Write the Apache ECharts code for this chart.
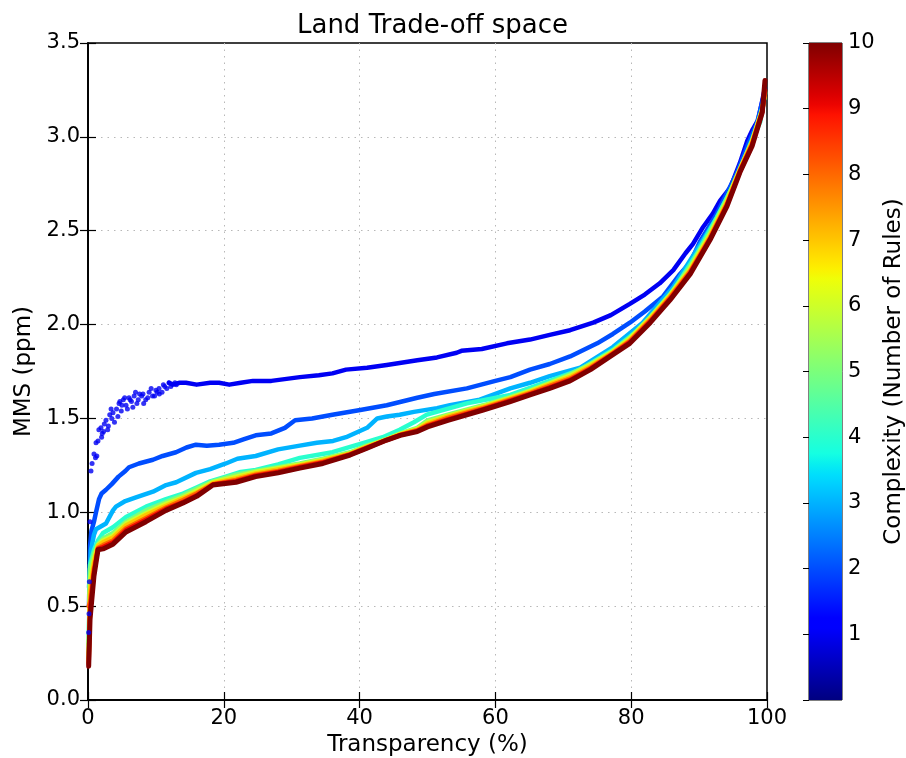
<!DOCTYPE html>
<html>
<head>
<meta charset="utf-8">
<script src="https://cdn.jsdelivr.net/npm/echarts@6/dist/echarts.min.js"></script>
<style>
  html, body { margin: 0; padding: 0; background: #ffffff; }
  #chart { width: 906px; height: 758px; }
</style>
</head>
<body>
<div id="chart"></div>
<script>
// Axis ticks
const xTicks = [0, 20, 40, 60, 80, 100];
const yTicks = [0, 0.5, 1.0, 1.5, 2.0, 2.5, 3.0, 3.5];
const complexityTicks = [1, 2, 3, 4, 5, 6, 7, 8, 9, 10];

// Complexity 1: noisy start (drawn as dots), then the smooth part
const rules1Start = [
  [0.1, 0.36], [0.15, 0.46], [0.2, 0.63], [0.3, 0.95], [0.44, 1.22], [0.6, 1.26], [0.88, 1.31],
  [1.1, 1.29], [1.18, 1.37], [1.3, 1.30], [1.47, 1.38], [1.6, 1.44], [1.91, 1.45], [2.0, 1.40],
  [2.1, 1.42], [2.3, 1.43], [2.4, 1.47], [2.65, 1.49], [2.9, 1.44], [3.0, 1.46], [3.2, 1.52],
  [3.4, 1.55], [3.5, 1.50], [3.68, 1.53], [3.9, 1.48], [4.2, 1.55], [4.4, 1.51], [4.57, 1.58],
  [4.7, 1.59], [4.9, 1.54], [5.0, 1.57], [5.2, 1.60], [5.4, 1.61], [5.6, 1.57], [5.8, 1.55],
  [6.04, 1.61], [6.2, 1.60], [6.4, 1.59], [6.6, 1.56], [6.8, 1.62], [7.0, 1.64], [7.2, 1.58],
  [7.4, 1.60], [7.6, 1.63], [7.9, 1.62], [8.1, 1.63], [8.2, 1.58], [8.5, 1.60], [8.8, 1.61],
  [9.0, 1.64], [9.3, 1.66], [9.5, 1.62], [9.8, 1.62], [10.0, 1.65], [10.2, 1.64], [10.46, 1.66],
  [10.5, 1.63], [10.9, 1.64], [11.1, 1.68], [11.3, 1.67], [11.6, 1.66], [11.93, 1.69],
  [12.2, 1.67], [12.8, 1.69], [13, 1.68]
];
const rules1 = [
  [11.93, 1.69], [12.5, 1.68], [13.5, 1.69], [14.43, 1.69], [16, 1.68], [18, 1.69], [19.3, 1.69],
  [20.8, 1.68], [22.5, 1.69], [24.3, 1.70], [27, 1.70], [31.2, 1.72], [34, 1.73], [36, 1.74],
  [38, 1.76], [41.1, 1.77], [44, 1.785], [48.5, 1.81], [51.4, 1.825], [54.3, 1.85], [55, 1.86],
  [58, 1.87], [61.7, 1.90], [65.1, 1.92], [68, 1.945], [71, 1.97], [74.4, 2.01], [77, 2.05],
  [79.8, 2.11], [82, 2.16], [84.2, 2.22], [86.2, 2.29], [88, 2.38], [89.1, 2.43], [90.6, 2.52],
  [92, 2.59], [93.1, 2.66], [94.6, 2.73], [96, 2.86], [97.1, 2.98], [97.9, 3.04], [98.7, 3.09],
  [99.4, 3.21], [99.7, 3.26]
];
const rules2 = [
  [0.15, 0.50], [0.3, 0.82], [0.5, 0.90], [0.88, 0.95], [1.18, 1.00], [1.62, 1.07], [2.0, 1.10],
  [2.65, 1.12], [3.5, 1.15], [4.5, 1.19], [5.5, 1.22], [6.04, 1.24], [7.5, 1.26], [9.57, 1.28],
  [11, 1.30], [12.96, 1.32], [14.5, 1.345], [15.9, 1.36], [17.5, 1.355], [19.3, 1.36], [21.4, 1.37],
  [23, 1.39], [24.7, 1.41], [27, 1.42], [29, 1.45], [30.5, 1.49], [33, 1.50], [36, 1.52],
  [40.1, 1.545], [44, 1.57], [48.5, 1.61], [51, 1.63], [55.8, 1.66], [60, 1.70], [62.2, 1.72],
  [65.1, 1.76], [68, 1.79], [71, 1.83], [75, 1.90], [77.3, 1.95], [79.8, 2.01], [82, 2.07],
  [84.7, 2.15], [87.2, 2.27], [88.7, 2.33], [90.1, 2.44], [92.6, 2.59], [95.6, 2.81],
  [97.1, 2.95], [98.5, 3.07], [99.6, 3.23]
];
const rules3 = [
  [0.15, 0.60], [0.44, 0.80], [0.88, 0.88], [1.18, 0.91], [2.65, 0.94], [3.68, 1.01], [4.12, 1.03],
  [5.5, 1.06], [7.07, 1.08], [9.57, 1.11], [11.5, 1.145], [13, 1.16], [15.9, 1.21], [18, 1.23],
  [20.3, 1.26], [22, 1.285], [24.7, 1.30], [28, 1.335], [31.2, 1.355], [33.7, 1.37], [36.1, 1.38],
  [38, 1.40], [41.1, 1.45], [42.6, 1.50], [44, 1.51], [45.9, 1.52], [48, 1.535], [51.4, 1.555],
  [53.3, 1.57], [57.7, 1.60], [60.7, 1.64], [62.2, 1.66], [65.1, 1.69], [68, 1.725], [72.5, 1.77],
  [77.3, 1.88], [81.7, 2.01], [86.2, 2.20], [89.7, 2.40], [92.6, 2.57], [95.6, 2.78], [97.5, 2.96],
  [99, 3.10], [99.7, 3.24]
];
const rules4 = [
  [0.1, 0.30], [0.3, 0.72], [0.88, 0.80], [1.47, 0.85], [2.21, 0.89], [3.68, 0.92], [5.6, 0.975],
  [8.54, 1.03], [11.49, 1.07], [14, 1.10], [15.9, 1.13], [18, 1.165], [20.3, 1.19], [22.5, 1.215],
  [24.7, 1.225], [28, 1.255], [31.2, 1.29], [36, 1.32], [41.1, 1.375], [43.4, 1.40], [45.9, 1.44],
  [48, 1.48], [49.9, 1.52], [55.8, 1.58], [62.2, 1.625], [68, 1.70], [72.5, 1.76], [77.3, 1.865],
  [81.7, 1.99], [86.2, 2.18], [89.7, 2.38], [92.6, 2.57], [95.6, 2.78], [97.5, 2.95], [99, 3.08],
  [99.7, 3.23]
];

// Shared transparency positions of complexities 5-10
const transparency = [
  0.1, 0.3, 0.88, 1.47, 2.21, 3.68, 5.6, 8.54, 11.49, 14, 16, 18.4, 21.8, 24.7, 28, 31.2, 34.6,
  38.6, 41, 44, 46, 48.5, 50, 53, 58.2, 62.2, 65.1, 68, 71, 74, 77.3, 79.8, 82.8, 85.7, 88.7,
  91.6, 94.1, 96, 97.8, 99.3, 99.7
];
const rules5 = [
  0.25, 0.70, 0.78, 0.83, 0.86, 0.89, 0.95, 1.01, 1.055, 1.09, 1.125, 1.165, 1.20, 1.22, 1.24, 1.26,
  1.285, 1.32, 1.355, 1.39, 1.42, 1.45, 1.49, 1.52, 1.57, 1.615, 1.65, 1.69, 1.735, 1.79, 1.86,
  1.93, 2.04, 2.16, 2.31, 2.49, 2.67, 2.83, 2.98, 3.15, 3.23
];
const rules6 = [
  0.22, 0.64, 0.75, 0.825, 0.85, 0.875, 0.94, 0.995, 1.045, 1.08, 1.115, 1.16, 1.19, 1.215, 1.235,
  1.255, 1.28, 1.315, 1.35, 1.388, 1.418, 1.445, 1.48, 1.515, 1.565, 1.61, 1.645, 1.685, 1.728,
  1.785, 1.856, 1.925, 2.035, 2.155, 2.30, 2.48, 2.66, 2.826, 2.975, 3.145, 3.235
];
const rules7 = [
  0.20, 0.58, 0.73, 0.82, 0.84, 0.865, 0.93, 0.985, 1.035, 1.075, 1.105, 1.155, 1.18, 1.207, 1.228,
  1.25, 1.275, 1.312, 1.347, 1.387, 1.415, 1.44, 1.472, 1.51, 1.56, 1.605, 1.64, 1.68, 1.72,
  1.778, 1.852, 1.918, 2.03, 2.15, 2.29, 2.47, 2.65, 2.822, 2.97, 3.14, 3.24
];
const rules8 = [
  0.50, 0.52, 0.70, 0.81, 0.825, 0.85, 0.915, 0.97, 1.025, 1.065, 1.10, 1.15, 1.172, 1.2, 1.22,
  1.245, 1.27, 1.31, 1.345, 1.386, 1.413, 1.437, 1.465, 1.503, 1.555, 1.60, 1.635, 1.673, 1.712,
  1.77, 1.848, 1.912, 2.022, 2.143, 2.283, 2.462, 2.642, 2.818, 2.962, 3.137, 3.245
];
const rules9 = [
  0.19, 0.48, 0.68, 0.805, 0.815, 0.84, 0.905, 0.96, 1.018, 1.055, 1.09, 1.148, 1.166, 1.195, 1.215,
  1.24, 1.265, 1.307, 1.342, 1.385, 1.411, 1.433, 1.46, 1.495, 1.55, 1.595, 1.63, 1.666, 1.705,
  1.765, 1.844, 1.906, 2.016, 2.136, 2.276, 2.455, 2.636, 2.814, 2.956, 3.133, 3.25
];
const rules10 = [
  0.18, 0.43, 0.66, 0.80, 0.805, 0.83, 0.895, 0.95, 1.01, 1.05, 1.085, 1.145, 1.16, 1.19, 1.21,
  1.235, 1.26, 1.305, 1.34, 1.385, 1.41, 1.43, 1.455, 1.49, 1.545, 1.59, 1.625, 1.66, 1.70, 1.76,
  1.84, 1.90, 2.01, 2.13, 2.27, 2.45, 2.63, 2.81, 2.95, 3.13, 3.30
];

// matplotlib "jet" colormap
function jet(t) {
  const seg = (pts) => {
    for (let i = 1; i < pts.length; i++) {
      if (t <= pts[i][0]) {
        const [x0, y0] = pts[i - 1], [x1, y1] = pts[i];
        return y0 + (y1 - y0) * (t - x0) / (x1 - x0);
      }
    }
    return pts[pts.length - 1][1];
  };
  const r = seg([[0, 0], [0.35, 0], [0.66, 1], [0.89, 1], [1, 0.5]]);
  const g = seg([[0, 0], [0.125, 0], [0.375, 1], [0.64, 1], [0.91, 0], [1, 0]]);
  const b = seg([[0, 0.5], [0.11, 1], [0.34, 1], [0.65, 0], [1, 0]]);
  return 'rgb(' + Math.round(r * 255) + ',' + Math.round(g * 255) + ',' + Math.round(b * 255) + ')';
}
const cMax = 10;
const colorOf = (c) => jet(c / cMax);

const pair = (ys) => transparency.map((x, i) => [x, ys[i]]);

// Simpler rule sets first, the most complex on top
const curves = [
  { c: 1, data: rules1 },
  { c: 2, data: rules2 },
  { c: 3, data: rules3 },
  { c: 4, data: rules4 },
  { c: 5, data: pair(rules5) },
  { c: 6, data: pair(rules6) },
  { c: 7, data: pair(rules7) },
  { c: 8, data: pair(rules8) },
  { c: 9, data: pair(rules9) },
  { c: 10, data: pair(rules10) }
];

const FONT = 'DejaVu Sans';
const tickStyle = { color: '#000', fontFamily: FONT, fontSize: 21 };
const nameStyle = { fontFamily: FONT, fontSize: 23, color: '#000' };
const axisLine = { show: true, lineStyle: { color: '#000', width: 1.5 } };
const inTick = { show: true, inside: true, length: 8, lineStyle: { color: '#000', width: 1.2 } };
const dotted = {
  show: true, showMinLine: false, showMaxLine: false,
  lineStyle: { color: '#b8b8b8', width: 1, type: [1.5, 5] }
};

const series = [];
series.push({
  type: 'scatter',
  xAxisIndex: 0, yAxisIndex: 0,
  data: rules1Start,
  symbol: 'circle',
  symbolSize: 5,
  z: 3,
  itemStyle: { color: colorOf(1) }
});
curves.forEach((cv) => series.push({
  type: 'line',
  xAxisIndex: 0, yAxisIndex: 0,
  data: cv.data,
  showSymbol: false,
  symbol: 'none',
  z: 3,
  lineStyle: { color: colorOf(cv.c), width: cv.c === 10 ? 5 : 4.5, join: 'round', cap: 'round' }
}));

// Colour bar
const barStops = [];
for (let i = 0; i <= 64; i++) barStops.push({ offset: i / 64, color: jet(i / 64) });
series.push({
  type: 'custom',
  xAxisIndex: 2, yAxisIndex: 2,
  data: [[0, 0, 1, cMax]],
  silent: true,
  renderItem: (params, api) => {
    const p0 = api.coord([0, 0]);
    const p1 = api.coord([1, cMax]);
    return {
      type: 'rect',
      shape: { x: p0[0], y: p1[1], width: p1[0] - p0[0], height: p0[1] - p1[1] },
      style: { fill: new echarts.graphic.LinearGradient(0, 1, 0, 0, barStops) }
    };
  }
});

const chart = echarts.init(document.getElementById('chart'), null, { renderer: 'canvas' });
chart.setOption({
  animation: false,
  backgroundColor: '#ffffff',
  title: {
    text: 'Land Trade-off space',
    left: 427.5, top: 8, textAlign: 'center',
    textStyle: { fontFamily: FONT, fontSize: 26, fontWeight: 'normal', color: '#000' }
  },
  grid: [
    {
      left: 88, top: 43, width: 679, height: 657, outerBoundsMode: 'none', containLabel: false,
      show: true, borderColor: '#000', borderWidth: 1.5, backgroundColor: 'transparent'
    },
    {
      left: 809, top: 43, width: 33, height: 657, outerBoundsMode: 'none', containLabel: false,
      show: true, borderColor: '#000', borderWidth: 1, backgroundColor: 'transparent'
    }
  ],
  xAxis: [
    {
      gridIndex: 0, type: 'value', min: 0, max: 100, interval: 20,
      name: 'Transparency (%)', nameLocation: 'middle', nameGap: 32,
      nameTextStyle: nameStyle,
      axisLine, axisTick: inTick, splitLine: dotted,
      axisLabel: Object.assign({ margin: 8 }, tickStyle)
    },
    {
      gridIndex: 0, type: 'value', min: 0, max: 100, interval: 20, position: 'top',
      axisLine, axisTick: inTick, splitLine: { show: false }, axisLabel: { show: false }
    },
    { gridIndex: 1, type: 'value', min: 0, max: 1, show: false }
  ],
  yAxis: [
    {
      gridIndex: 0, type: 'value', min: 0, max: 3.5, interval: 0.5,
      name: 'MMS (ppm)', nameLocation: 'middle', nameGap: 52, nameRotate: 90,
      nameTextStyle: nameStyle,
      axisLine, axisTick: inTick, splitLine: dotted,
      axisLabel: Object.assign({ margin: 8, formatter: v => v.toFixed(1) }, tickStyle)
    },
    {
      gridIndex: 0, type: 'value', min: 0, max: 3.5, interval: 0.5, position: 'right',
      axisLine, axisTick: inTick, splitLine: { show: false }, axisLabel: { show: false }
    },
    {
      gridIndex: 1, type: 'value', min: 0, max: cMax, interval: 1, position: 'right',
      name: 'Complexity (Number of Rules)', nameLocation: 'middle', nameGap: 41, nameRotate: 90,
      nameTextStyle: nameStyle,
      axisLine: { show: false },
      axisTick: { show: true, inside: true, length: 6, lineStyle: { color: '#000', width: 1 } },
      splitLine: { show: false },
      axisLabel: Object.assign({
        margin: 6,
        formatter: v => (complexityTicks.indexOf(v) >= 0 ? String(v) : '')
      }, tickStyle)
    }
  ],
  series
});
</script>
</body>
</html>
